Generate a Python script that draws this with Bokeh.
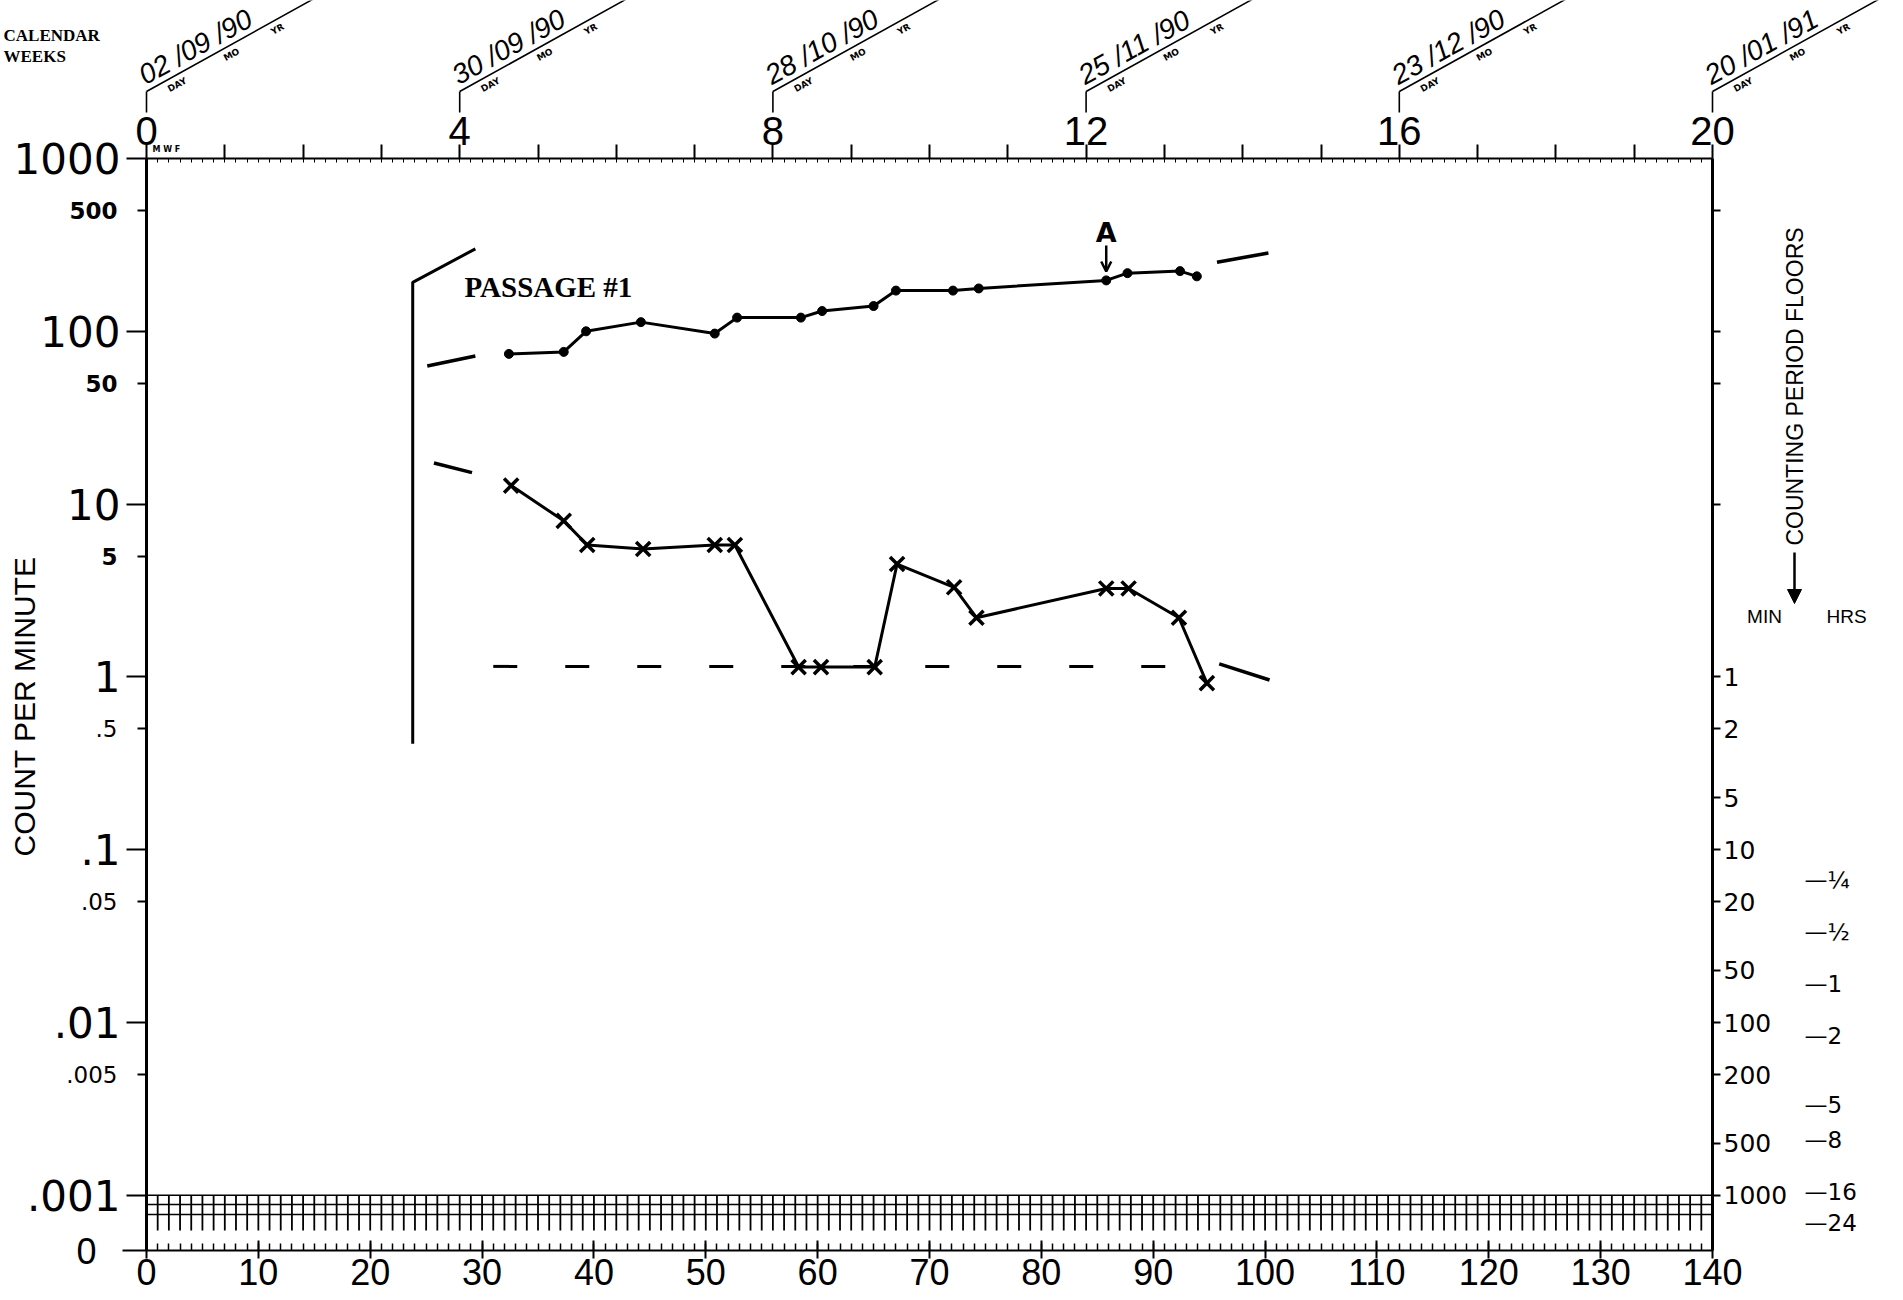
import math
from bokeh.plotting import figure
from bokeh.models import (LinearAxis, LogAxis, Range1d, FixedTicker, Label, Arrow,
                          NormalHead, OpenHead)
from bokeh.embed import file_html
from bokeh.resources import INLINE

# ---------------- data ----------------
upper_days = [32.4, 37.3, 39.3, 44.2, 50.8, 52.8, 58.5, 60.4, 65.0, 67.0, 72.1, 74.4, 85.8, 87.7, 92.4, 93.9]
upper_cpm = [74, 76, 100, 113, 97, 120, 120, 131, 140, 172, 172, 177, 197, 217, 223, 208]

lower_days = [32.6, 37.3, 39.4, 44.4, 50.8, 52.6, 58.3, 60.3, 65.1, 67.1, 72.2, 74.2, 85.8, 87.8, 92.3, 94.8]
lower_cpm = [12.8, 8.0, 5.8, 5.5, 5.8, 5.8, 1.14, 1.14, 1.14, 4.5, 3.3, 2.2, 3.25, 3.25, 2.2, 0.92]

floor_days = [31.0, 94.0]
floor_cpm = [1.15, 1.15]

passage_days = [23.8, 23.8, 29.4]
passage_cpm = [0.41, 192, 300]

extrap_days = [[25.1, 29.4], [25.7, 29.1], [95.7, 100.3], [95.9, 100.4]]
extrap_cpm = [[63, 72], [17.3, 15.2], [251, 284], [1.19, 0.96]]

day_ticks = list(range(0, 141, 10))
day_minor = list(range(0, 141))
grid_days = list(range(0, 141))

week_ticks = list(range(0, 21))
week_labelled = [0, 4, 8, 12, 16, 20]
date_texts = ["02 /09 /90", "30 /09 /90", "28 /10 /90", "25 /11 /90", "23 /12 /90", "20 /01 /91"]

decade_ticks = [1000, 100, 10, 1, 0.1, 0.01, 0.001]
decade_labels = ["1000", "100", "10", "1", ".1", ".01", ".001"]
half_ticks = [500, 50, 5, 0.5, 0.05, 0.005]
half_labels = ["500", "50", "5", ".5", ".05", ".005"]

min_values = [1, 2, 5, 10, 20, 50, 100, 200, 500, 1000]
min_extra_ticks = [500, 100, 50, 10]
hrs_values = [0.25, 0.5, 1, 2, 5, 8, 16, 24]
hrs_labels = ["\u00bc", "\u00bd", "1", "2", "5", "8", "16", "24"]

# ---------------- geometry (canvas pixels) ----------------
W, H = 1887, 1300
PX0, PY0 = 146.0, 158.0          # canvas position of (day 0, 1000 cpm)
FRAME_W = 1566
FRAME_H = 1250 - 158
DEC = 172.8                      # px per decade
PXD = FRAME_W / 140.0


def dx(px):
    return (px - PX0) / PXD


def dy(py):
    return 10 ** (3 - (py - PY0) / DEC)


y_bottom = 10 ** (3 - FRAME_H / DEC)

p = figure(width=W, height=H, y_axis_type="log", x_range=Range1d(0, 140),
           y_range=Range1d(y_bottom, 1000), output_backend="svg",
           toolbar_location=None, min_border_left=int(PX0), min_border_top=int(PY0),
           min_border_right=W - int(PX0) - FRAME_W, min_border_bottom=H - int(PY0) - FRAME_H)
p.grid.visible = False
p.outline_line_color = None

# ---------------- left axis (count per minute) ----------------
yax = p.yaxis[0]
yax.ticker = FixedTicker(ticks=decade_ticks, minor_ticks=half_ticks)
yax.major_label_overrides = dict(zip(decade_ticks, decade_labels))
yax.major_tick_out = 20
yax.major_tick_in = 0
yax.minor_tick_out = 9
yax.minor_tick_in = 0
yax.major_tick_line_width = 2
yax.minor_tick_line_width = 2
yax.axis_line_width = 3
yax.major_label_standoff = 6
yax.major_label_text_font = "DejaVu Sans"
yax.major_label_text_font_size = "42px"
yax.major_label_text_color = "black"

# ---------------- bottom axis (days) ----------------
xax = p.xaxis[0]
xax.ticker = FixedTicker(ticks=day_ticks, minor_ticks=day_minor)
xax.major_tick_in = 10
xax.major_tick_out = 8
xax.minor_tick_in = 7
xax.minor_tick_out = 0
xax.major_tick_line_width = 2
xax.minor_tick_line_width = 1.5
xax.axis_line_width = 2
xax.major_label_standoff = 0
xax.major_label_text_font = "Liberation Sans"
xax.major_label_text_font_size = "36px"
xax.major_label_text_color = "black"

# day grid band below .001
band_top, band_bottom = 0.001, dy(1230)
band_rows = [0.001, dy(1204), dy(1214)]
p.segment(x0=grid_days, y0=[band_top] * len(grid_days), x1=grid_days,
          y1=[band_bottom] * len(grid_days), line_color="black", line_width=1.8)
p.segment(x0=[0] * len(band_rows), y0=band_rows, x1=[140] * len(band_rows), y1=band_rows,
          line_color="black", line_width=1.5)

# ---------------- top axis (calendar weeks) ----------------
p.extra_x_ranges = {"weeks": Range1d(0, 20)}
top = LinearAxis(x_range_name="weeks",
                 ticker=FixedTicker(ticks=week_ticks, minor_ticks=[d / 7 for d in day_minor]))
top.major_label_overrides = {w: (str(w) if w in week_labelled else "") for w in week_ticks}
top.major_tick_out = 14
top.major_tick_in = 0
top.minor_tick_in = 4
top.minor_tick_out = 0
top.major_tick_line_width = 2
top.axis_line_width = 2
top.major_label_standoff = 0
top.major_label_text_font = "Liberation Sans"
top.major_label_text_font_size = "40px"
top.major_label_text_color = "black"
p.add_layout(top, "above")

# ---------------- right axes (counting period floors) ----------------
r_ticks = min_extra_ticks + [1.0 / m for m in min_values]
r_labels = ["" for _ in min_extra_ticks] + [str(m) for m in min_values]
r1 = LogAxis(ticker=FixedTicker(ticks=r_ticks))
r1.major_label_overrides = dict(zip(r_ticks, r_labels))
r1.major_tick_out = 8
r1.major_tick_in = 0
r1.minor_tick_out = 0
r1.minor_tick_in = 0
r1.major_tick_line_width = 2
r1.axis_line_width = 3
r1.major_label_standoff = 3
r1.major_label_text_font = "DejaVu Sans"
r1.major_label_text_font_size = "25px"
r1.major_label_text_color = "black"
p.add_layout(r1, "right")

h_ticks = [1.0 / (60 * h) for h in hrs_values]
r2 = LogAxis(ticker=FixedTicker(ticks=h_ticks))
r2.major_label_overrides = {t: "\u2014" + lab for t, lab in zip(h_ticks, hrs_labels)}
r2.axis_line_color = None
r2.major_tick_line_color = None
r2.minor_tick_line_color = None
r2.major_tick_out = 0
r2.major_tick_in = 0
r2.minor_tick_out = 0
r2.minor_tick_in = 0
r2.major_label_standoff = 14
r2.major_label_text_font = "DejaVu Sans"
r2.major_label_text_font_size = "23px"
r2.major_label_text_color = "black"
p.add_layout(r2, "right")

# ---------------- data marks ----------------
p.multi_line(xs=extrap_days, ys=extrap_cpm, line_color="black", line_width=3.5)
p.line(passage_days, passage_cpm, line_color="black", line_width=3)
p.line(floor_days, floor_cpm, line_color="black", line_width=3, line_dash="24 48")

p.line(upper_days, upper_cpm, line_color="black", line_width=3)
p.scatter(upper_days, upper_cpm, marker="circle", size=9, color="black")

p.line(lower_days, lower_cpm, line_color="black", line_width=3)
p.scatter(lower_days, lower_cpm, marker="x", size=20, line_color="black", line_width=3.5)

p.add_layout(Label(x=dx(464), y=dy(286), text="PASSAGE #1", text_baseline="middle",
                   text_font="Liberation Serif", text_font_style="bold", text_font_size="29px",
                   text_color="black"))

a_day = upper_days[12]
p.add_layout(Label(x=a_day, y=dy(232), text="A", text_align="center", text_baseline="middle",
                   text_font="DejaVu Sans", text_font_style="bold", text_font_size="27px",
                   text_color="black"))
p.add_layout(Arrow(x_start=a_day, y_start=dy(245), x_end=a_day, y_end=dy(271),
                   end=OpenHead(size=10, line_width=2.5, line_color="black"),
                   line_width=2.5, line_color="black"))

# ---------------- transparent overlay (separate root) with the same scales ----------------
o = figure(width=W, height=H, y_axis_type="log", x_range=Range1d(dx(0), dx(W)),
           y_range=Range1d(dy(H), dy(0)), x_axis_location=None, y_axis_location=None,
           min_border=0, toolbar_location=None, output_backend="svg")
o.grid.visible = False
o.outline_line_color = None
o.background_fill_alpha = 0
o.border_fill_alpha = 0
o.margin = (-H, 0, 0, 0)

for t, lab in zip(half_ticks, half_labels):
    o.add_layout(Label(x=dx(117), y=t, text=lab, text_align="right", text_baseline="middle",
                       text_font="DejaVu Sans", text_font_size="23px",
                       text_font_style="bold" if t >= 5 else "normal", text_color="black"))

o.add_layout(Label(x=dx(24), y=dy(706), text="COUNT PER MINUTE", angle=math.pi / 2,
                   text_align="center", text_baseline="middle", text_font="Liberation Sans",
                   text_font_size="30px", text_color="black"))

o.add_layout(Label(x=dx(86), y=y_bottom, text="0", text_align="center", text_baseline="middle",
                   text_font="Liberation Sans", text_font_size="36px", text_color="black"))
o.segment(x0=[dx(122)], y0=[y_bottom], x1=[0], y1=[y_bottom], line_color="black", line_width=2)

o.add_layout(Label(x=dx(3), y=dy(35), text="CALENDAR", text_align="left", text_baseline="middle",
                   text_font="Liberation Serif", text_font_style="bold", text_font_size="17px",
                   text_color="black"))
o.add_layout(Label(x=dx(3), y=dy(56), text="WEEKS", text_align="left", text_baseline="middle",
                   text_font="Liberation Serif", text_font_style="bold", text_font_size="17px",
                   text_color="black"))

o.add_layout(Label(x=dx(152), y=dy(149), text="M  W  F", text_baseline="middle",
                   text_font="DejaVu Sans", text_font_style="bold", text_font_size="8px",
                   text_color="black"))

ang = math.radians(29)
bx0, by0, bx1, by1 = [], [], [], []
for w, txt in zip(week_labelled, date_texts):
    xw = PX0 + w * 7 * PXD
    L = 190
    bx0 += [dx(xw), dx(xw)]
    by0 += [dy(112), dy(91)]
    bx1 += [dx(xw), dx(xw + L * math.cos(ang))]
    by1 += [dy(91), dy(91 - L * math.sin(ang))]
    o.add_layout(Label(x=dx(xw + 2), y=dy(90), text=txt, angle=ang, text_align="left",
                       text_baseline="bottom", text_font="Liberation Sans", text_font_style="italic",
                       text_font_size="28px", text_color="black"))
    for lab, along in [("DAY", 20), ("MO", 84), ("YR", 138)]:
        px = xw + along * math.cos(ang) + 4 * math.sin(ang)
        py = 91 - along * math.sin(ang) + 4 * math.cos(ang)
        o.add_layout(Label(x=dx(px), y=dy(py), text=lab, angle=ang, text_align="left",
                           text_baseline="top", text_font="DejaVu Sans", text_font_style="bold",
                           text_font_size="9px", text_color="black"))
o.segment(x0=bx0, y0=by0, x1=bx1, y1=by1, line_color="black", line_width=1.6)

o.add_layout(Label(x=dx(1794), y=dy(386), text="COUNTING PERIOD FLOORS", angle=math.pi / 2,
                   text_align="center", text_baseline="middle", text_font="Liberation Sans",
                   text_font_size="23px", text_color="black"))
o.add_layout(Arrow(x_start=dx(1794), y_start=dy(552), x_end=dx(1794), y_end=dy(603),
                   end=NormalHead(size=14, fill_color="black", line_color="black"),
                   line_width=2.5, line_color="black"))
o.add_layout(Label(x=dx(1764), y=dy(616), text="MIN", text_align="center", text_baseline="middle",
                   text_font="Liberation Sans", text_font_size="19px", text_color="black"))
o.add_layout(Label(x=dx(1846), y=dy(616), text="HRS", text_align="center", text_baseline="middle",
                   text_font="Liberation Sans", text_font_size="19px", text_color="black"))

open("out.html", "w").write(file_html([p, o], INLINE))
